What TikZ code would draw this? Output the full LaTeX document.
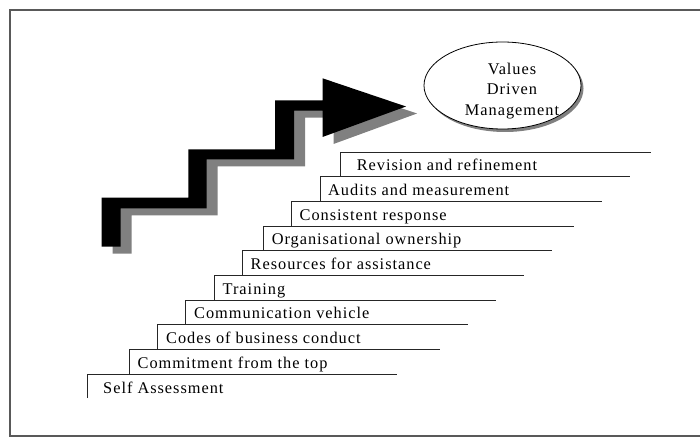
\documentclass[tikz,border=0pt]{standalone}
\usepackage{fontspec}
\setmainfont{Liberation Serif}
\newfontfamily\stairfont[LetterSpace=6]{Liberation Serif}
\usetikzlibrary{shapes.geometric,shadows}
\begin{document}
\begin{tikzpicture}[x=1bp,y=-1bp,
		stair/.style={draw=black!85,line width=.9bp},
		stairlabel/.style={anchor=base west,inner sep=0pt,font=\stairfont\fontsize{16.4}{20.7}\selectfont},
		goal/.style={draw,ellipse,line width=.8bp,fill=white,minimum width=157bp,minimum height=87bp,
			drop shadow={shadow xshift=2.5bp,shadow yshift=-3bp,fill=black!50,opacity=1}},
		goaltext/.style={align=center,inner sep=0pt,font=\stairfont\fontsize{16.4}{20.7}\selectfont}]
		\useasboundingbox (0,0) rectangle (700,437);
		\draw[black!65,line width=1.6bp] (700,10) -- (10,10) -- (10,436) -- (700,436);
		% rising arrow and its shadow
		\fill[black!50,shift={(11,7)}] (101.7,246.7) -- (101.7,197.7) -- (188.3,197.7) -- (188.3,149.3) -- (275,149.3) -- (275,100.5) -- (322.5,100.5) -- (322.5,78.3) -- (406,106.5) -- (322.5,137) -- (322.5,110.7) -- (294,110.7) -- (294,159.5) -- (206.7,159.5) -- (206.7,208.3) -- (120.7,208.3) -- (120.7,246.7) -- cycle;
		\fill[black] (101.7,246.7) -- (101.7,197.7) -- (188.3,197.7) -- (188.3,149.3) -- (275,149.3) -- (275,100.5) -- (322.5,100.5) -- (322.5,78.3) -- (406,106.5) -- (322.5,137) -- (322.5,110.7) -- (294,110.7) -- (294,159.5) -- (206.7,159.5) -- (206.7,208.3) -- (120.7,208.3) -- (120.7,246.7) -- cycle;
		% goal
		\node[goal] (vdm) at (502.5,85.5) {};
		\node[goaltext] (vdmtext) at (512,91) {Values\\Driven\\Management};
		% stairs
		\draw[stair] (87.7,398) |- (397,374);
		\draw[stair] (129.8,374) |- (440,349.3);
		\draw[stair] (157.8,349.3) |- (467.7,324.7);
		\draw[stair] (185.7,324.7) |- (496,300);
		\draw[stair] (214,300) |- (524,275.3);
		\draw[stair] (242,275.3) |- (552,250.7);
		\draw[stair] (263,250.7) |- (573.5,226);
		\draw[stair] (291,226) |- (602,201.3);
		\draw[stair] (320,201.3) |- (630,176.7);
		\draw[stair] (340.5,176.7) |- (651,152);
		\node[stairlabel] (self) at (103,393) {Self Assessment};
		\node[stairlabel] (commit) at (137.5,368.3) {Commitment from the top};
		\node[stairlabel] (codes) at (166,343.7) {Codes of business conduct};
		\node[stairlabel] (comms) at (194,319) {Communication vehicle};
		\node[stairlabel] (train) at (222.5,294.3) {Training};
		\node[stairlabel] (assist) at (250.5,269.7) {Resources for assistance};
		\node[stairlabel] (owner) at (271.6,245) {Organisational ownership};
		\node[stairlabel] (respond) at (299.5,220.3) {Consistent response};
		\node[stairlabel] (audit) at (328,195.7) {Audits and measurement};
		\node[stairlabel] (revise) at (356.6,171) {Revision and refinement};
	\end{tikzpicture}
\end{document}
